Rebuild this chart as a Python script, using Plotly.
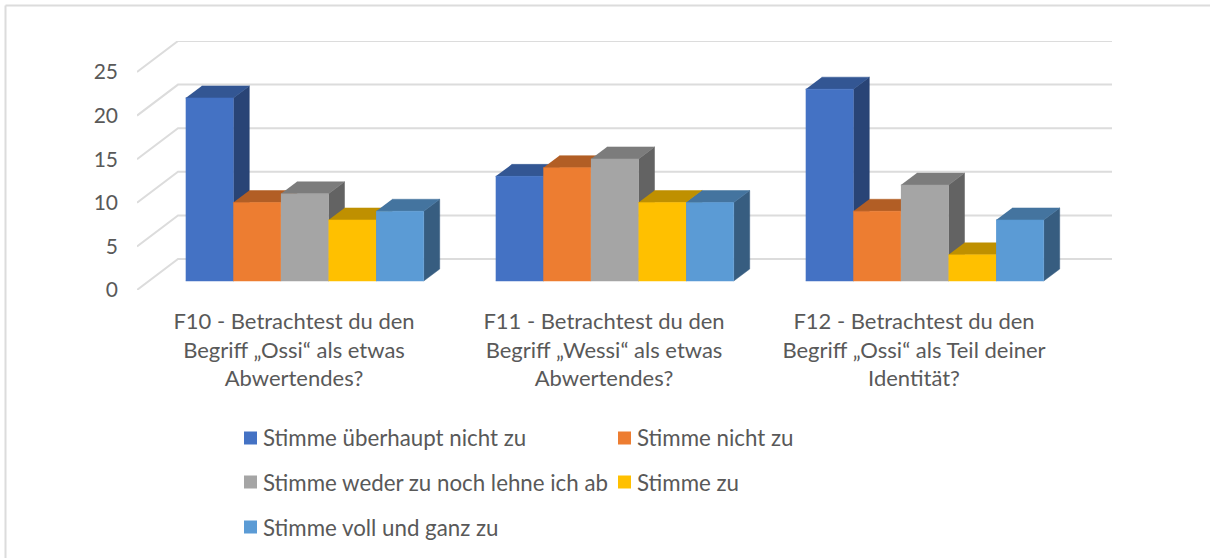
"""
F10-F12 Zustimmung, 3D-look bar chart (faces drawn as filled scatter traces).
"""
import plotly.graph_objects as go

categories = [
    ['F10 - Betrachtest du den', 'Begriff „Ossi“ als etwas', 'Abwertendes?'],
    ['F11 - Betrachtest du den', 'Begriff „Wessi“ als etwas', 'Abwertendes?'],
    ['F12 - Betrachtest du den', 'Begriff „Ossi“ als Teil deiner', 'Identität?'],
]
series_names = ['Stimme überhaupt nicht zu', 'Stimme nicht zu', 'Stimme weder zu noch lehne ich ab',
                'Stimme zu', 'Stimme voll und ganz zu']
ueberhaupt_nicht = [21, 12, 22]
nicht = [9, 13, 8]
weder_noch = [10, 14, 11]
zu = [7, 9, 3]
voll_und_ganz = [8, 9, 7]
y_ticks = [0, 5, 10, 15, 20, 25]

series_values = [ueberhaupt_nicht, nicht, weder_noch, zu, voll_und_ganz]
front_colors = ['#4472C4', '#ED7D31', '#A5A5A5', '#FFC000', '#5B9BD5']
top_colors = ['#335693', '#B25E25', '#7C7C7C', '#BF9000', '#44749F']
side_colors = ['#294476', '#8E4B1D', '#636363', '#997300', '#375D80']
GRID = '#DCDCDC'
TEXT = '#595959'
FONT = 'Lato'

# page layout in pixels
W, H = 1210, 558
LEFT, RIGHT, TOP, BOTTOM = 137, 1112, 41, 290
PX_PER_UNIT = 8.72
GROUP_PX = 310
CENTER0 = 294  # pixel of first category label


def dx(px):
    return px / GROUP_PX


def dy(px):
    return px / PX_PER_UNIT


x_min = dx(LEFT - CENTER0)
x_max = dx(RIGHT - CENTER0)
y_max = dy(BOTTOM - TOP)

# projection offsets of the fake depth
wall_x, wall_y = dx(41), dy(31)
bar_off_x, bar_off_y = dx(12), dy(9)   # bar front plane vs axis plane
depth_x, depth_y = dx(16), dy(12)      # bar depth
bar_w = dx(47.6)
first_bar = dx(185.7 - CENTER0)

fig = go.Figure()


def face(xs, ys, color):
    fig.add_trace(go.Scatter(x=xs, y=ys, mode='lines', fill='toself', fillcolor=color,
                             line=dict(color=color, width=0.5), hoverinfo='skip', showlegend=False))


# grid on side wall and back wall
for t in y_ticks:
    fig.add_trace(go.Scatter(x=[x_min, x_min + wall_x, x_max], y=[t, t + wall_y, t + wall_y], mode='lines',
                             line=dict(color=GRID, width=2), hoverinfo='skip', showlegend=False))

for c in range(len(categories)):
    for s, values in enumerate(series_values):
        v = values[c]
        x0 = c + first_bar + s * bar_w
        x1 = x0 + bar_w
        y0 = bar_off_y
        y1 = v + bar_off_y
        face([x1, x1 + depth_x, x1 + depth_x, x1], [y0, y0 + depth_y, y1 + depth_y, y1], side_colors[s])
        face([x0, x1, x1 + depth_x, x0 + depth_x], [y1, y1, y1 + depth_y, y1 + depth_y], top_colors[s])
        face([x0, x1, x1, x0], [y0, y0, y1, y1], front_colors[s])

# legend is hand placed: two columns, wide row pitch
legend_pos = [(244, 438), (618, 438), (244, 482), (618, 482), (244, 527)]
shapes = [
    dict(type='line', xref='paper', yref='paper', x0=(5.5 - LEFT) / (RIGHT - LEFT), x1=(W - LEFT) / (RIGHT - LEFT),
         y0=(BOTTOM - 5.5) / (BOTTOM - TOP), y1=(BOTTOM - 5.5) / (BOTTOM - TOP), line=dict(color=GRID, width=2)),
    dict(type='line', xref='paper', yref='paper', x0=(5.5 - LEFT) / (RIGHT - LEFT), x1=(5.5 - LEFT) / (RIGHT - LEFT),
         y0=(BOTTOM - 5.5) / (BOTTOM - TOP), y1=(BOTTOM - H) / (BOTTOM - TOP), line=dict(color=GRID, width=2)),
]
annotations = []
for name, color, (px, py) in zip(series_names, front_colors, legend_pos):
    xa = (px - LEFT) / (RIGHT - LEFT)
    ya = (BOTTOM - py) / (BOTTOM - TOP)
    shapes.append(dict(type='rect', xref='paper', yref='paper', x0=xa, x1=(px + 13 - LEFT) / (RIGHT - LEFT),
                       y0=(BOTTOM - py + 6.5) / (BOTTOM - TOP), y1=(BOTTOM - py - 6.5) / (BOTTOM - TOP),
                       fillcolor=color, line=dict(width=0)))
    annotations.append(dict(text=name, xref='paper', yref='paper', x=(px + 18 - LEFT) / (RIGHT - LEFT), y=ya,
                            xanchor='left', yanchor='middle', showarrow=False, borderpad=0,
                            font=dict(family=FONT, size=22.3, color=TEXT)))

tick_text = ['<br>'.join(lines) for lines in categories]

fig.update_layout(
    width=W, height=H, autosize=False,
    margin=dict(l=LEFT, r=W - RIGHT, t=TOP, b=H - BOTTOM, pad=0),
    plot_bgcolor='white', paper_bgcolor='white', showlegend=False,
    font=dict(family=FONT, color=TEXT),
    xaxis=dict(range=[x_min, x_max], tickmode='array', tickvals=list(range(len(categories))), ticktext=tick_text,
               tickangle=0, showgrid=False, zeroline=False, showline=False, ticks='', ticklabelstandoff=16,
               tickfont=dict(family=FONT, size=22, color=TEXT), automargin=False),
    yaxis=dict(range=[0, y_max], tickmode='array', tickvals=y_ticks, showgrid=False, zeroline=False, showline=False,
               ticks='', ticklabelstandoff=18, tickfont=dict(family=FONT, size=21, color=TEXT), automargin=False),
    shapes=shapes, annotations=annotations,
)

fig.write_html("out.html", config=dict(displayModeBar=False),
               post_script="document.body.style.margin='0';document.body.style.overflow='hidden';")
